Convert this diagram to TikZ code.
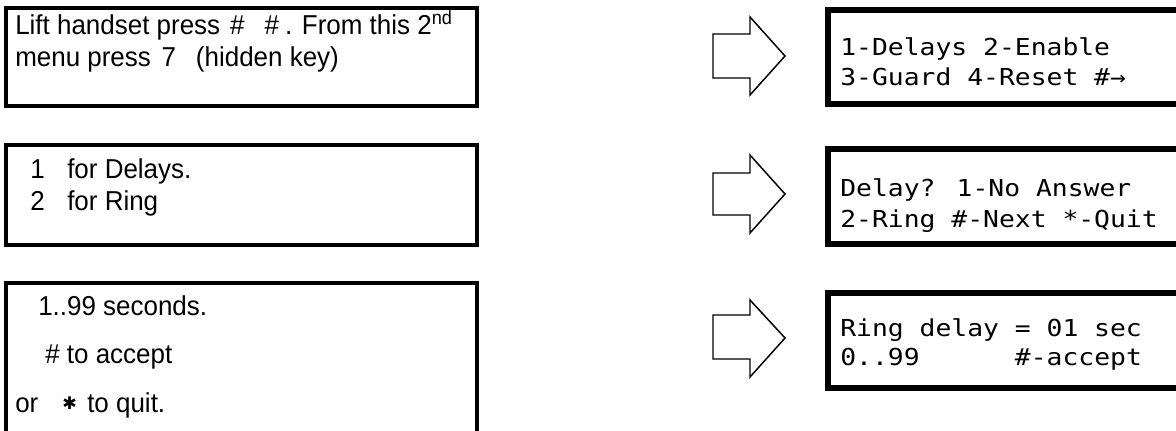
\documentclass[tikz,border=0pt]{standalone}
\usepackage{fontspec}
\setmainfont[FakeStretch=0.95]{Liberation Sans}
\newfontfamily\lcdfont[FakeStretch=1.13]{DejaVu Sans Mono}
\newfontfamily\symfont{DejaVu Sans}

\begin{document}
\begin{tikzpicture}[x=0.75pt,y=0.75pt,yscale=-1,xscale=1]
\tikzset{
  menubox/.style={line width=2.6pt},
  lcdbox/.style={line width=4.6pt},
  blockarrow/.style={line width=1.1pt, line join=miter},
  helptext/.style={anchor=base west, inner sep=0pt, font=\fontsize{20.5}{24}\selectfont},
  lcdtext/.style={anchor=base west, inner sep=0pt, font=\lcdfont\fontsize{17.5}{21}\selectfont}
}
\useasboundingbox (0,0) rectangle (1176,431);
\clip (0,0) rectangle (1176,431);

%Shape: Rectangle [id:menu1]
\draw [menubox] (6,8) rectangle (477,106) ;
%Shape: Rectangle [id:menu2]
\draw [menubox] (6,145) rectangle (477,245) ;
%Shape: Rectangle [id:menu3]
\draw [menubox] (6,283) rectangle (477,450) ;

%Shape: Right Arrow [id:arrow1]
\draw [blockarrow] (713,34) -- (750,34) -- (750,17) -- (785,56) -- (750,95) -- (750,78) -- (713,78) -- cycle ;
%Shape: Right Arrow [id:arrow2]
\draw [blockarrow] (713,173) -- (750,173) -- (750,155) -- (785,194) -- (750,233) -- (750,215) -- (713,215) -- cycle ;
%Shape: Right Arrow [id:arrow3]
\draw [blockarrow] (713,315) -- (750,315) -- (750,300) -- (785,338) -- (750,377) -- (750,359) -- (713,359) -- cycle ;

%Shape: Rectangle [id:lcd1]
\draw [lcdbox] (828,10) rectangle (1200,104) ;
%Shape: Rectangle [id:lcd2]
\draw [lcdbox] (828,149) rectangle (1200,244) ;
%Shape: Rectangle [id:lcd3]
\draw [lcdbox] (828,293) rectangle (1200,388) ;

% Text Node
\draw (15,35) node [helptext] (lift) {Lift handset press\hspace{7.5pt}\#\hspace{15pt}\#\hspace{4.5pt}. From this 2\textsuperscript{nd}};
% Text Node
\draw (15,67) node [helptext] (menu) {menu press\hspace{8pt}7\hspace{15pt}(hidden key)};
% Text Node
\draw (30,178) node [helptext] (keyone) {1};
% Text Node
\draw (67,178) node [helptext] (delays) {for Delays.};
% Text Node
\draw (30,210) node [helptext] (keytwo) {2};
% Text Node
\draw (67,210) node [helptext] (ring) {for Ring};
% Text Node
\draw (38,315) node [helptext] (range) {1..99 seconds.};
% Text Node
\draw (45,363) node [helptext] (accept) {\# to accept};
% Text Node
\draw (15,412) node [helptext] (orq) {or};
% Text Node
\draw (62,412) node [helptext] (star) {\symfont\fontsize{13}{14}\selectfont\raisebox{2pt}{✱}};
% Text Node
\draw (87,412) node [helptext] (quit) {to quit.};

% Text Node
\draw (840,56) node [lcdtext] (lcdonea) {1-Delays 2-Enable};
% Text Node
\draw (840,86) node [lcdtext] (lcdoneb) {3-Guard 4-Reset \#→};
% Text Node
\draw (840,196) node [lcdtext] (lcdtwoa) {Delay? 1-No Answer};
% Text Node
\draw (840,227) node [lcdtext] (lcdtwob) {2-Ring \#-Next *-Quit};
% Text Node
\draw (840,336) node [lcdtext] (lcdthreea) {Ring delay = 01 sec};
% Text Node
\draw (840,365) node [lcdtext] (lcdthreeb) {0..99\ \ \ \ \ \ \#-accept};

\end{tikzpicture}
\end{document}
